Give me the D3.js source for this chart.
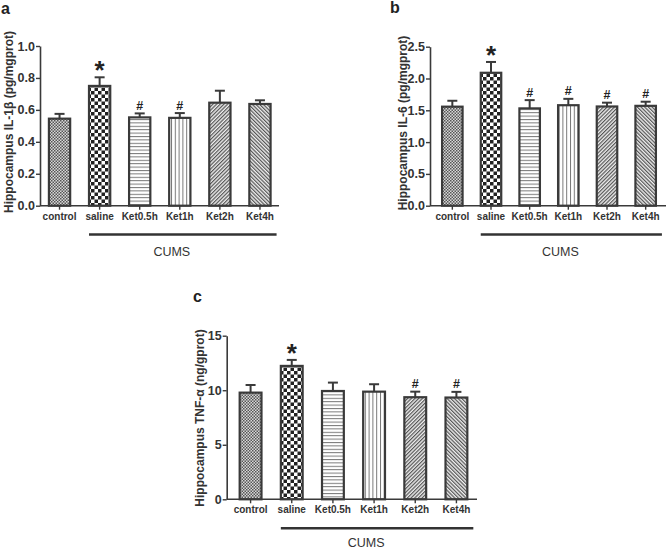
<!DOCTYPE html>
<html>
<head>
<meta charset="utf-8">
<script src="https://cdn.jsdelivr.net/npm/d3@7"></script>
<style>
html,body{margin:0;padding:0;background:#fff;}
svg{display:block;font-family:Arial,"Liberation Sans",sans-serif;}
</style>
</head>
<body>
<svg id="chart" width="666" height="550"></svg>
<script>
const groups = ["control", "saline", "Ket0.5h", "Ket1h", "Ket2h", "Ket4h"];
const patternIds = ["pDots", "pChecker", "pHoriz", "pVert", "pDiagR", "pDiagL"];

// Panel a: IL-1β
const il1bMean = [0.545, 0.75, 0.553, 0.55, 0.645, 0.637];
const il1bSem  = [0.03, 0.054, 0.025, 0.03, 0.075, 0.023];
const il1bMarks = ["", "*", "#", "#", "", ""];
const il1bTicks = [0, 0.2, 0.4, 0.6, 0.8, 1.0];

// Panel b: IL-6
const il6Mean = [1.557, 2.09, 1.53, 1.58, 1.56, 1.57];
const il6Sem  = [0.093, 0.17, 0.13, 0.10, 0.06, 0.065];
const il6Marks = ["", "*", "#", "#", "#", "#"];
const il6Ticks = [0, 0.5, 1.0, 1.5, 2.0, 2.5];

// Panel c: TNF-α
const tnfMean = [9.78, 12.23, 9.93, 9.87, 9.36, 9.33];
const tnfSem  = [0.70, 0.55, 0.77, 0.68, 0.51, 0.52];
const tnfMarks = ["", "*", "", "", "#", "#"];
const tnfTicks = [0, 5, 10, 15];

const svg = d3.select("#chart");
svg.append("rect").attr("width", 666).attr("height", 550).attr("fill", "#fff");

// patterns
const defs = svg.append("defs");
const ink = "#3a3a3a";
(function(){
  let p = defs.append("pattern").attr("id", "pDots").attr("patternUnits", "userSpaceOnUse").attr("width", 3).attr("height", 3);
  p.append("rect").attr("width", 3).attr("height", 3).attr("fill", "#d8d8d8");
  p.append("rect").attr("width", 1.5).attr("height", 1.5).attr("fill", "#555");
  p.append("rect").attr("x", 1.5).attr("y", 1.5).attr("width", 1.5).attr("height", 1.5).attr("fill", "#555");

  p = defs.append("pattern").attr("id", "pChecker").attr("patternUnits", "userSpaceOnUse").attr("width", 7).attr("height", 7);
  p.append("rect").attr("width", 7).attr("height", 7).attr("fill", "#fff");
  p.append("rect").attr("width", 3.5).attr("height", 3.5).attr("fill", "#222");
  p.append("rect").attr("x", 3.5).attr("y", 3.5).attr("width", 3.5).attr("height", 3.5).attr("fill", "#222");

  p = defs.append("pattern").attr("id", "pHoriz").attr("patternUnits", "userSpaceOnUse").attr("width", 4).attr("height", 3.4);
  p.append("rect").attr("width", 4).attr("height", 3.4).attr("fill", "#fff");
  p.append("line").attr("x1", 0).attr("x2", 4).attr("y1", 0.5).attr("y2", 0.5).attr("stroke", "#777").attr("stroke-width", 1);

  p = defs.append("pattern").attr("id", "pVert").attr("patternUnits", "userSpaceOnUse").attr("width", 3.8).attr("height", 4);
  p.append("rect").attr("width", 3.8).attr("height", 4).attr("fill", "#fff");
  p.append("line").attr("y1", 0).attr("y2", 4).attr("x1", 0.5).attr("x2", 0.5).attr("stroke", "#777").attr("stroke-width", 1);

  [["pDiagR", 45], ["pDiagL", -45]].forEach(([id, ang]) => {
    const q = defs.append("pattern").attr("id", id).attr("patternUnits", "userSpaceOnUse")
      .attr("width", 2.6).attr("height", 4).attr("patternTransform", `rotate(${ang})`);
    q.append("rect").attr("width", 2.6).attr("height", 4).attr("fill", "#eee");
    q.append("line").attr("y1", 0).attr("y2", 4).attr("x1", 0.6).attr("x2", 0.6).attr("stroke", "#555").attr("stroke-width", 1.2);
  });
})();

function panel(cfg) {
  const g = svg.append("g");
  const x = d3.scaleBand().domain(groups).range(cfg.xr).paddingInner(0.47).paddingOuter(0.235);
  const y = d3.scaleLinear().domain([0, cfg.ymax]).range(cfg.yr);
  const bw = x.bandwidth();

  // bars
  g.selectAll("rect.bar").data(groups).enter().append("rect")
    .attr("x", d => x(d)).attr("width", bw)
    .attr("y", (d, i) => y(cfg.mean[i]))
    .attr("height", (d, i) => y(0) - y(cfg.mean[i]))
    .attr("fill", (d, i) => `url(#${patternIds[i]})`)
    .attr("stroke", ink).attr("stroke-width", 2.2);

  // error bars
  groups.forEach((d, i) => {
    const cx = x(d) + bw / 2;
    const top = y(cfg.mean[i] + cfg.sem[i]);
    g.append("line").attr("x1", cx).attr("x2", cx).attr("y1", y(cfg.mean[i])).attr("y2", top)
      .attr("stroke", ink).attr("stroke-width", 2);
    g.append("line").attr("x1", cx - 5).attr("x2", cx + 5).attr("y1", top).attr("y2", top)
      .attr("stroke", ink).attr("stroke-width", 2);
    const m = cfg.marks[i];
    if (m === "*") {
      g.append("text").attr("x", cx).attr("y", top + 2).attr("text-anchor", "middle")
        .attr("font-size", 26).attr("font-weight", "bold").attr("fill", "#222").text("*");
    } else if (m === "#") {
      g.append("text").attr("x", cx).attr("y", top - 3.5).attr("text-anchor", "middle")
        .attr("font-size", 12.5).attr("font-weight", "bold").attr("fill", "#222").text("#");
    }
  });

  // y axis
  const ya = g.append("g").attr("transform", `translate(${cfg.ax},0)`)
    .call(d3.axisLeft(y).tickValues(cfg.ticks).tickSize(4).tickSizeOuter(0)
      .tickFormat(cfg.fmt));
  ya.select(".domain").attr("stroke", ink).attr("stroke-width", 1.6);
  ya.selectAll(".tick line").attr("stroke", ink).attr("stroke-width", 1.4);
  ya.selectAll(".tick text").attr("font-size", 12.5).attr("font-weight", "bold").attr("fill", "#333")
    .attr("font-family", "Arial, 'Liberation Sans', sans-serif").attr("x", -5);

  // x axis
  const xa = g.append("g").attr("transform", `translate(0,${y(0)})`)
    .call(d3.axisBottom(x).tickSize(4).tickSizeOuter(0));
  xa.select(".domain").attr("d", `M${cfg.ax},0H${cfg.xend}`).attr("stroke", ink).attr("stroke-width", 1.6);
  xa.selectAll(".tick line").attr("stroke", ink).attr("stroke-width", 1.4);
  xa.selectAll(".tick text").attr("font-size", 10).attr("font-weight", "bold").attr("fill", "#333")
    .attr("font-family", "Arial, 'Liberation Sans', sans-serif").attr("y", 7);

  // y label
  g.append("text").attr("transform", `translate(${cfg.labx},${cfg.laby}) rotate(-90)`)
    .attr("text-anchor", "middle").attr("font-size", 12).attr("font-weight", "bold").attr("fill", "#333")
    .text(cfg.ylabel);

  // CUMS bracket
  const lx1 = x("saline"), lx2 = x("Ket4h") + bw + 6;
  g.append("line").attr("x1", lx1).attr("x2", lx2).attr("y1", cfg.cumsY).attr("y2", cfg.cumsY)
    .attr("stroke", "#333").attr("stroke-width", 2.5);
  g.append("text").attr("x", (lx1 + lx2) / 2 - 11).attr("y", cfg.cumsY + cfg.cumsDy).attr("text-anchor", "middle")
    .attr("font-size", 12.5).attr("fill", "#333").text("CUMS");

  // panel letter
  g.append("text").attr("x", cfg.letter[0]).attr("y", cfg.letter[1])
    .attr("font-size", 16).attr("font-weight", "bold").attr("fill", "#222").text(cfg.letter[2]);
}

panel({mean: il1bMean, sem: il1bSem, marks: il1bMarks, ticks: il1bTicks, ymax: 1.0,
  fmt: d3.format(".1f"), xr: [39.5, 280], yr: [205.7, 46], ax: 40, xend: 279,
  ylabel: "Hippocampus IL-1β (pg/mgprot)", labx: 12.5, laby: 122, cumsY: 234.5, cumsDy: 21.5, letter: [1, 13.5, "a"]});

panel({mean: il6Mean, sem: il6Sem, marks: il6Marks, ticks: il6Ticks, ymax: 2.5,
  fmt: d3.format(".1f"), xr: [433, 665], yr: [205.7, 46.7], ax: 430, xend: 666,
  ylabel: "Hippocampus IL-6 (pg/mgprot)", labx: 407, laby: 123, cumsY: 234.5, cumsDy: 21.5, letter: [390, 13, "b"]});

panel({mean: tnfMean, sem: tnfSem, marks: tnfMarks, ticks: tnfTicks, ymax: 15,
  fmt: d3.format("d"), xr: [230, 477], yr: [499.3, 335.7], ax: 226.7, xend: 477,
  ylabel: "Hippocampus TNF-α (ng/gprot)", labx: 204, laby: 418, cumsY: 528.3, cumsDy: 18.5, letter: [193, 302, "c"]});
</script>
</body>
</html>
